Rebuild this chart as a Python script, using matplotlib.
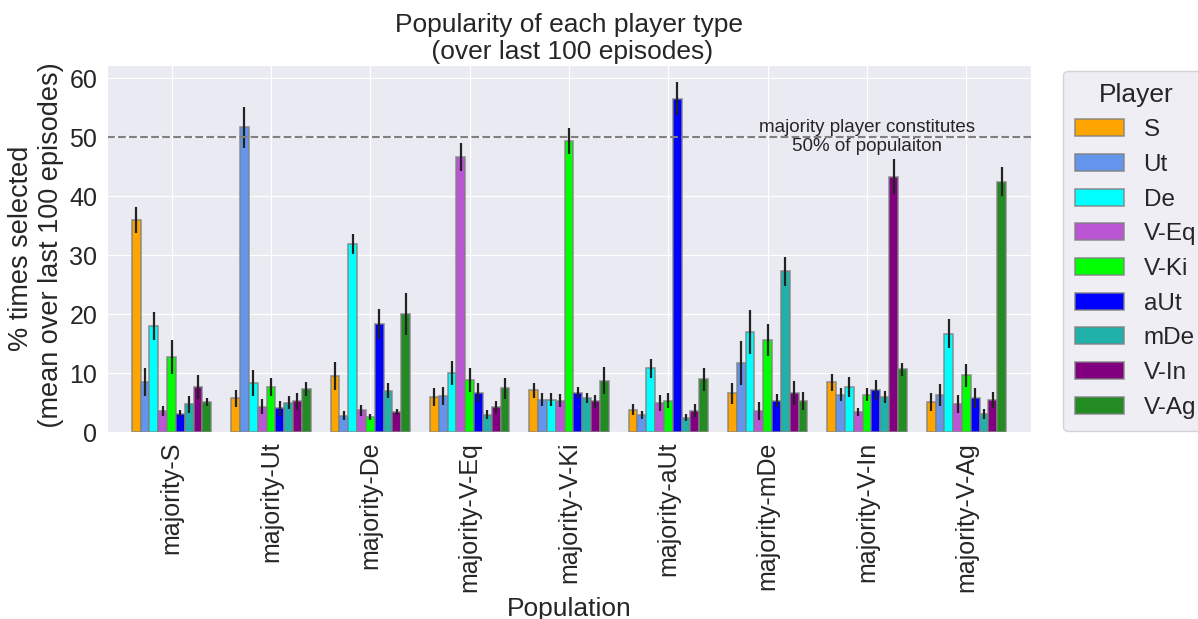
import numpy as np
import matplotlib
matplotlib.use("Agg")
import matplotlib.pyplot as plt
import seaborn as sns

sns.set_style("darkgrid")
plt.rcParams['font.family'] = ['Liberation Sans', 'DejaVu Sans']

populations = ['majority-S', 'majority-Ut', 'majority-De', 'majority-V-Eq',
               'majority-V-Ki', 'majority-aUt', 'majority-mDe', 'majority-V-In',
               'majority-V-Ag']
players = ['S', 'Ut', 'De', 'V-Eq', 'V-Ki', 'aUt', 'mDe', 'V-In', 'V-Ag']
colors = ['orange', 'cornflowerblue', 'cyan', 'mediumorchid', 'lime',
          'blue', 'lightseagreen', 'purple', 'forestgreen']

# mean % selected, one row per population, one column per player type
means = np.array([
    [36.0, 8.5, 18.0, 3.6, 12.7, 3.1, 4.7, 7.6, 5.1],
    [5.7, 51.7, 8.4, 4.3, 7.7, 4.0, 5.0, 5.2, 7.25],
    [9.5, 2.8, 31.9, 3.7, 2.55, 18.3, 7.0, 3.4, 20.0],
    [5.95, 6.1, 10.0, 46.7, 8.85, 6.7, 2.95, 4.25, 7.4],
    [7.1, 5.45, 5.5, 5.3, 49.3, 6.7, 5.7, 5.2, 8.7],
    [3.8, 2.9, 10.8, 4.9, 5.3, 56.5, 2.45, 3.6, 8.95],
    [6.6, 11.7, 17.0, 3.6, 15.6, 5.3, 27.25, 6.6, 5.3],
    [8.45, 6.35, 7.6, 3.4, 6.3, 7.2, 5.9, 43.3, 10.65],
    [5.1, 6.3, 16.7, 4.75, 9.6, 5.7, 3.05, 5.45, 42.5],
])
errors = np.array([
    [2.2, 2.3, 2.4, 0.8, 2.9, 0.6, 1.4, 2.0, 0.65],
    [1.5, 3.5, 2.2, 1.25, 1.5, 1.3, 1.1, 1.4, 1.2],
    [2.3, 0.7, 1.7, 0.95, 0.5, 2.5, 1.3, 0.5, 3.6],
    [1.5, 1.5, 2.0, 2.4, 2.0, 1.6, 0.8, 1.0, 1.8],
    [1.3, 1.1, 1.1, 1.1, 2.2, 1.0, 0.85, 1.1, 2.3],
    [0.9, 0.7, 1.6, 1.35, 1.3, 2.8, 0.55, 1.1, 2.0],
    [1.8, 3.7, 3.7, 1.5, 2.75, 1.1, 2.4, 2.0, 1.5],
    [1.4, 1.1, 1.7, 0.75, 1.1, 1.7, 1.0, 3.0, 1.1],
    [1.5, 1.9, 2.5, 1.6, 2.0, 1.7, 0.8, 1.4, 2.5],
])

fig = plt.figure(figsize=(11.98, 6.19), dpi=100)
ax = fig.add_axes([0.0893, 0.302, 0.7713, 0.593])

x = np.arange(len(populations))
n = len(players)
w = 0.8 / n
for j, (p, c) in enumerate(zip(players, colors)):
    ax.bar(x + (j - (n - 1) / 2) * w, means[:, j], width=w, color=c,
           edgecolor=(0.5, 0.5, 0.5, 0.8), linewidth=1.2, label=p,
           yerr=errors[:, j], error_kw=dict(ecolor='#222222', elinewidth=1.6, capsize=0))

ax.axhline(50, color='gray', linestyle='--', linewidth=1.5)
ax.text(7.0, 50, 'majority player constitutes\n50% of populaiton', ha='center',
        va='center', fontsize=13.5, color='#262626', linespacing=1.15)

ax.set_xlim(-0.65, 8.65)
ax.set_xticks(x)
ax.set_xticklabels(populations, rotation=90, fontsize=18)
ax.tick_params(axis='y', labelsize=18)
ax.set_xlabel('Population', fontsize=19)
ax.set_ylabel('% times selected\n (mean over last 100 episodes)', fontsize=19.5)
ax.set_title('Popularity of each player type\n (over last 100 episodes)', fontsize=19,
             pad=4)

leg = ax.legend(title='Player', loc='upper left', bbox_to_anchor=(1.035, 0.985),
                borderaxespad=0, fontsize=17.5, title_fontsize=19,
                labelspacing=0.52, handlelength=2.0, borderpad=0.5)

fig.savefig('out.png', dpi=100)
